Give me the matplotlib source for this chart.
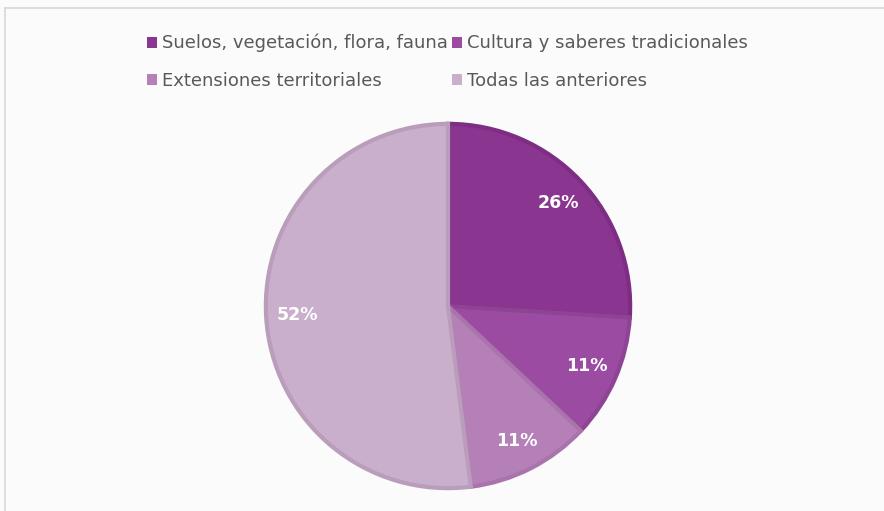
import matplotlib.pyplot as plt
from matplotlib.patches import Rectangle
from matplotlib.lines import Line2D

categories = ["Suelos, vegetación, flora, fauna", "Cultura y saberes tradicionales",
              "Extensiones territoriales", "Todas las anteriores"]
values = [26, 11, 11, 52]
colors = ["#8A3590", "#9B4BA1", "#B57FB8", "#C9AFCB"]
edge_colors = ["#7D2E84", "#8E4394", "#A874AB", "#B99DBB"]

W, H = 884, 511
fig = plt.figure(figsize=(W / 100, H / 100), dpi=100)
fig.patch.set_facecolor("#FBFBFB")

# frame of the original chart area
fig.add_artist(Line2D([5 / W, 5 / W], [0, 1 - 8 / H], transform=fig.transFigure,
                      color="#D8D8D8", lw=1.2))
fig.add_artist(Line2D([5 / W, 1], [1 - 8 / H, 1 - 8 / H], transform=fig.transFigure,
                      color="#D8D8D8", lw=1.2))

ax = fig.add_axes([264 / W, 21 / H, 368 / W, 368 / H])
wedges, texts, autotexts = ax.pie(values, colors=colors, startangle=90, counterclock=False,
                                  autopct="%d%%", pctdistance=0.83, radius=0.99,
                                  wedgeprops=dict(linewidth=3),
                                  textprops=dict(color="white", fontsize=12.5, fontweight="bold"))
for w, ec in zip(wedges, edge_colors):
    w.set_edgecolor(ec)
ax.set_xlim(-1, 1)
ax.set_ylim(-1, 1)
ax.set_aspect("equal")
ax.axis("off")

# legend is filled row by row in the original, matplotlib fills by column
handles = [Rectangle((0, 0), 1, 1, facecolor=c) for c in colors]
order = [0, 2, 1, 3]
fig.legend([handles[i] for i in order], [categories[i] for i in order], ncol=2,
           loc="upper left", bbox_to_anchor=(147 / W, 1 - 34 / H),
           frameon=False, fontsize=13, handlelength=0.55, handleheight=0.55,
           handletextpad=0.3, columnspacing=0.2, labelspacing=1.08,
           labelcolor="#595959", borderaxespad=0, borderpad=0)

fig.savefig("out.png", dpi=100, facecolor=fig.get_facecolor())
